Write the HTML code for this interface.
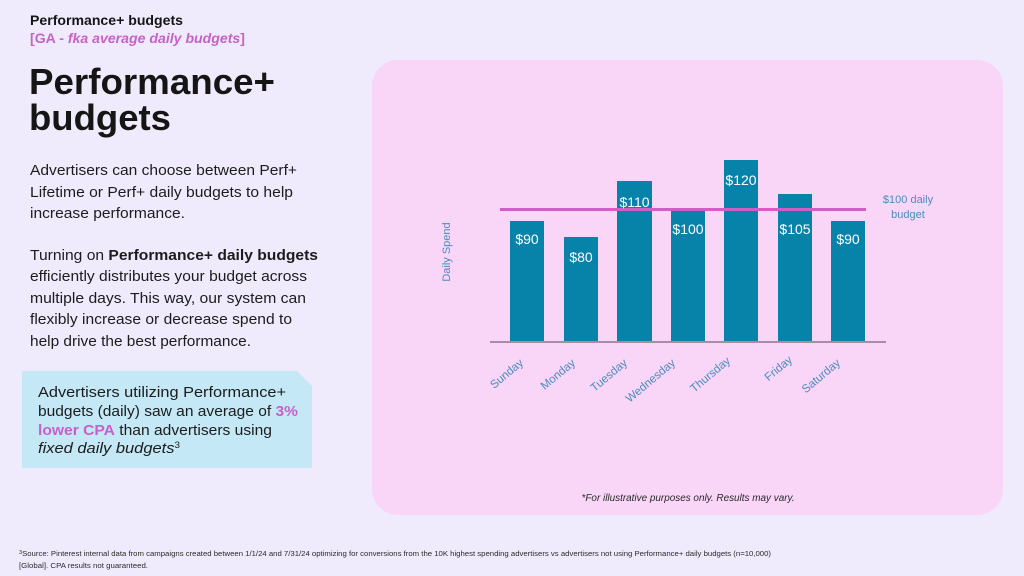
<!DOCTYPE html>
<html>
<head>
<meta charset="utf-8">
<style>
html,body{margin:0;padding:0;background:#efebfc;}
svg{display:block;}
text{font-family:"Liberation Sans",Arial,sans-serif;}
</style>
</head>
<body>
<svg width="1024" height="576" viewBox="0 0 1024 576" xmlns="http://www.w3.org/2000/svg">
  <rect x="0" y="0" width="1024" height="576" fill="#efebfc"/>

  <!-- header -->
  <text x="30" y="25" font-size="14" font-weight="bold" fill="#151515" textLength="153" lengthAdjust="spacingAndGlyphs">Performance+ budgets</text>
  <text x="30" y="43" font-size="14" fill="#c762c4" font-weight="bold" textLength="215" lengthAdjust="spacingAndGlyphs">[GA - <tspan font-style="italic">fka average daily budgets</tspan>]</text>

  <!-- big title -->
  <text x="29" y="94" font-size="36" font-weight="bold" fill="#151515" textLength="246" lengthAdjust="spacingAndGlyphs">Performance+</text>
  <text x="29" y="130" font-size="36" font-weight="bold" fill="#151515" textLength="142" lengthAdjust="spacingAndGlyphs">budgets</text>

  <!-- body -->
  <g font-size="15" fill="#1c1c1c">
    <text x="30" y="175" textLength="267" lengthAdjust="spacingAndGlyphs">Advertisers can choose between Perf+</text>
    <text x="30" y="197" textLength="263" lengthAdjust="spacingAndGlyphs">Lifetime or Perf+ daily budgets to help</text>
    <text x="30" y="218" textLength="155" lengthAdjust="spacingAndGlyphs">increase performance.</text>
    <text x="30" y="260" textLength="288" lengthAdjust="spacingAndGlyphs">Turning on <tspan font-weight="bold">Performance+ daily budgets</tspan></text>
    <text x="30" y="281" textLength="277" lengthAdjust="spacingAndGlyphs">efficiently distributes your budget across</text>
    <text x="30" y="303" textLength="276" lengthAdjust="spacingAndGlyphs">multiple days. This way, our system can</text>
    <text x="30" y="324" textLength="262" lengthAdjust="spacingAndGlyphs">flexibly increase or decrease spend to</text>
    <text x="30" y="346" textLength="221" lengthAdjust="spacingAndGlyphs">help drive the best performance.</text>
  </g>

  <!-- callout -->
  <polygon points="22,371 297,371 312,386 312,468 22,468" fill="#c4e8f5"/>
  <g font-size="15" fill="#1c1c1c">
    <text x="38" y="397" textLength="248" lengthAdjust="spacingAndGlyphs">Advertisers utilizing Performance+</text>
    <text x="38" y="416" textLength="260" lengthAdjust="spacingAndGlyphs">budgets (daily) saw an average of <tspan font-weight="bold" fill="#c95fc9">3%</tspan></text>
    <text x="38" y="435" textLength="234" lengthAdjust="spacingAndGlyphs"><tspan font-weight="bold" fill="#c95fc9">lower CPA</tspan> than advertisers using</text>
    <text x="38" y="453" font-style="italic" textLength="142" lengthAdjust="spacingAndGlyphs">fixed daily budgets<tspan font-style="normal" font-size="9" dy="-5">3</tspan></text>
  </g>

  <!-- panel -->
  <rect x="372" y="60" width="631" height="455" rx="26" ry="26" fill="#f9d5f8"/>

  <!-- bars -->
  <g fill="#0783aa">
    <rect x="510" y="221" width="34" height="121"/>
    <rect x="564" y="237" width="34" height="105"/>
    <rect x="617" y="181" width="35" height="161"/>
    <rect x="671" y="210" width="34" height="132"/>
    <rect x="724" y="160" width="34" height="182"/>
    <rect x="778" y="194" width="34" height="148"/>
    <rect x="831" y="221" width="34" height="121"/>
  </g>
  <!-- axis -->
  <line x1="490" y1="342" x2="886" y2="342" stroke="#a98ca8" stroke-width="2"/>
  <!-- budget line -->
  <line x1="500" y1="209.5" x2="866" y2="209.5" stroke="#d15dc7" stroke-width="3"/>

  <!-- value labels -->
  <g font-size="14" fill="#ffffff" text-anchor="middle">
    <text x="527" y="244">$90</text>
    <text x="581" y="262">$80</text>
    <text x="634.5" y="207">$110</text>
    <text x="688" y="234">$100</text>
    <text x="741" y="185">$120</text>
    <text x="795" y="234">$105</text>
    <text x="848" y="244">$90</text>
  </g>

  <!-- budget label -->
  <g font-size="11" fill="#4b8dba" text-anchor="middle">
    <text x="908" y="203">$100 daily</text>
    <text x="908" y="218">budget</text>
  </g>

  <!-- y axis title -->
  <text transform="translate(450,252) rotate(-90)" font-size="11" fill="#4b8dba" text-anchor="middle">Daily Spend</text>

  <!-- day labels -->
  <g font-size="11.5" fill="#4b8dba" text-anchor="end">
    <text transform="translate(524,364) rotate(-40)">Sunday</text>
    <text transform="translate(576,364) rotate(-40)">Monday</text>
    <text transform="translate(628,364) rotate(-40)">Tuesday</text>
    <text transform="translate(676,364) rotate(-40)">Wednesday</text>
    <text transform="translate(731,362) rotate(-40)">Thursday</text>
    <text transform="translate(793,361) rotate(-40)">Friday</text>
    <text transform="translate(841,364) rotate(-40)">Saturday</text>
  </g>

  <!-- disclaimer -->
  <text x="688" y="501" font-size="10" font-style="italic" fill="#2a2a2a" text-anchor="middle" textLength="213" lengthAdjust="spacingAndGlyphs">*For illustrative purposes only. Results may vary.</text>

  <!-- footnote -->
  <g font-size="7" fill="#2a2a2a">
    <text x="19" y="556" textLength="752" lengthAdjust="spacingAndGlyphs"><tspan font-size="5" dy="-2">3</tspan><tspan dy="2">Source: Pinterest internal data from campaigns created between 1/1/24 and 7/31/24 optimizing for conversions from the 10K highest spending advertisers vs advertisers not using Performance+ daily budgets  (n=10,000)</tspan></text>
    <text x="19" y="568" textLength="129" lengthAdjust="spacingAndGlyphs">[Global]. CPA results not guaranteed.</text>
  </g>
</svg>
</body>
</html>
